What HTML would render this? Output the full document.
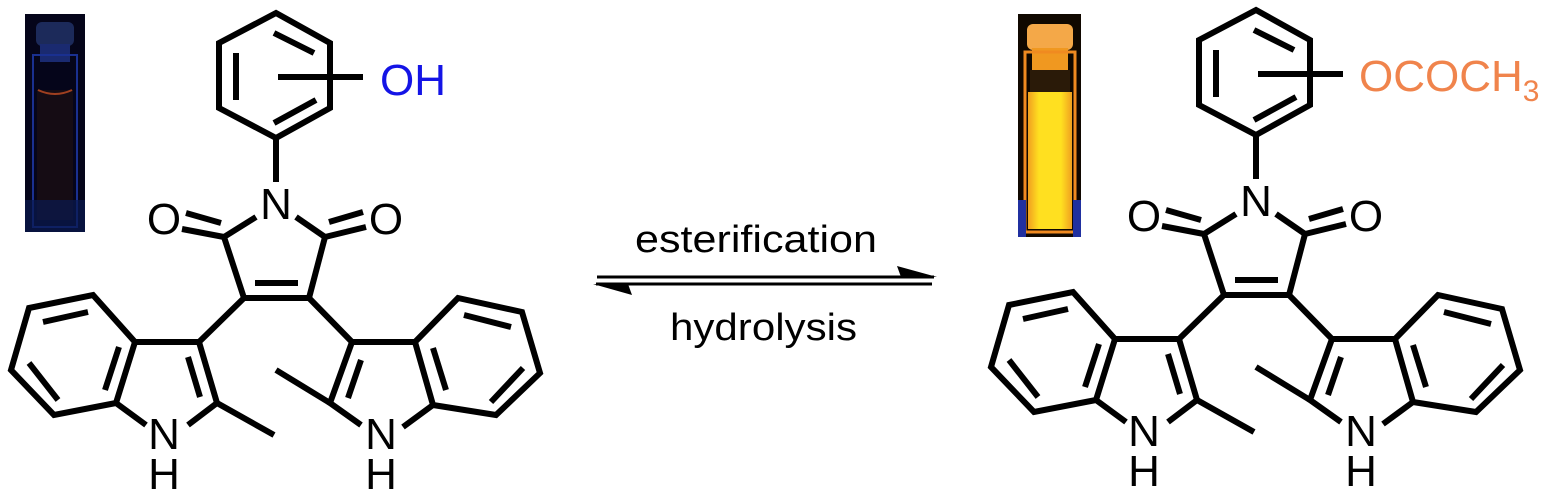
<!DOCTYPE html>
<html><head><meta charset="utf-8"><style>
html,body{margin:0;padding:0;background:#fff;}
svg{display:block;}
text{font-family:"Liberation Sans",Arial,sans-serif;}
</style></head><body>
<svg width="1550" height="501" viewBox="0 0 1550 501" xmlns="http://www.w3.org/2000/svg">
<defs>
<linearGradient id="yel" x1="0" y1="0" x2="1" y2="0">
<stop offset="0" stop-color="#f0a020"/><stop offset="0.25" stop-color="#ffe020"/><stop offset="0.75" stop-color="#ffe020"/><stop offset="1" stop-color="#f0a020"/>
</linearGradient>
<g id="mol" fill="none" stroke="#000" stroke-width="6" stroke-linecap="butt" stroke-linejoin="miter">
<polygon points="276,13 330,43 330,108 276,138 219,108 219,43"/>
<line x1="274" y1="33" x2="314" y2="53"/>
<line x1="236" y1="53" x2="236" y2="100"/>
<line x1="274" y1="123" x2="316" y2="100"/>
<line x1="276" y1="138" x2="276" y2="182"/>
<line x1="256" y1="217" x2="224" y2="237"/>
<line x1="296" y1="217" x2="325" y2="237"/>
<line x1="224" y1="237" x2="182" y2="229"/>
<line x1="186" y1="213" x2="221" y2="223"/>
<line x1="325" y1="237" x2="366" y2="227"/>
<line x1="329" y1="222" x2="363" y2="212"/>
<line x1="224" y1="237" x2="244" y2="298"/>
<line x1="325" y1="237" x2="309" y2="298"/>
<line x1="241" y1="298" x2="312" y2="298"/>
<line x1="255" y1="283" x2="298" y2="283"/>
<line x1="244" y1="298" x2="199" y2="342"/>
<polyline points="135,342 199,342 217,403 188,425"/>
<line x1="188" y1="357" x2="200" y2="397"/>
<line x1="217" y1="403" x2="274" y2="435"/>
<polyline points="146,425 116,403 135,342 93,295 29,308 11,370 54,415 116,403"/>
<line x1="43" y1="322" x2="88" y2="312"/>
<line x1="29" y1="363" x2="58" y2="400"/>
<line x1="119" y1="347" x2="105" y2="390"/>
<line x1="309" y1="298" x2="352" y2="342"/>
<polyline points="415,342 352,342 330,403 361,425"/>
<line x1="361" y1="360" x2="348" y2="398"/>
<line x1="330" y1="403" x2="276" y2="370"/>
<polyline points="403,427 433,405 415,342 458,298 522,312 540,373 496,415 433,405"/>
<line x1="433" y1="348" x2="446" y2="390"/>
<line x1="464" y1="315" x2="511" y2="327"/>
<line x1="491" y1="402" x2="523" y2="368"/>
<line x1="278" y1="77" x2="363" y2="77"/>
</g>
<g id="lab" font-size="44" fill="#000" text-anchor="middle">
<text x="276" y="219">N</text>
<text x="164" y="234">O</text>
<text x="386" y="234">O</text>
<text x="164" y="449">N</text>
<text x="164" y="489">H</text>
<text x="381" y="449">N</text>
<text x="381" y="489">H</text>
</g>
</defs>

<rect x="25" y="14" width="60" height="218" fill="#05051a"/>
<rect x="36" y="22" width="38" height="24" rx="6" fill="#1c2a5a"/>
<rect x="40" y="44" width="30" height="18" fill="#1a2a70"/>
<rect x="33" y="55" width="44" height="172" fill="none" stroke="#1a3090" stroke-width="2"/>
<rect x="37" y="90" width="36" height="130" fill="#150c14"/>
<path d="M38 90 Q55 98 72 90" stroke="#a04020" stroke-width="2" fill="none"/>
<rect x="25" y="200" width="60" height="32" fill="#0a1a50" opacity="0.7"/>

<rect x="1018" y="14" width="63" height="223" fill="#100800"/>
<rect x="1027" y="24" width="46" height="26" rx="6" fill="#f4a848"/>
<rect x="1032" y="48" width="36" height="22" fill="#f09820"/>
<rect x="1025" y="52" width="50" height="180" fill="none" stroke="#f08a20" stroke-width="3"/>
<rect x="1030" y="70" width="40" height="22" fill="#2a1a08"/>
<rect x="1028" y="92" width="44" height="137" fill="url(#yel)"/>
<rect x="1018" y="200" width="8" height="37" fill="#2030a0"/>
<rect x="1073" y="200" width="8" height="37" fill="#2030a0"/>

<use href="#mol"/>
<use href="#lab"/>
<text x="380" y="95" font-size="44" fill="#1414e6">OH</text>

<g transform="translate(980,-3)">
<use href="#mol"/>
<use href="#lab"/>
</g>
<text x="1359" y="91" font-size="44" fill="#f0844c">OCOCH<tspan font-size="30" dy="10">3</tspan></text>

<line x1="597" y1="277" x2="934" y2="277" stroke="#000" stroke-width="3"/>
<polygon points="937,277 897,266 901,277" fill="#000"/>
<line x1="596" y1="284" x2="932" y2="284" stroke="#000" stroke-width="3"/>
<polygon points="593,284 632,295 628,284" fill="#000"/>
<text x="635" y="252" font-size="38" textLength="242" lengthAdjust="spacingAndGlyphs">esterification</text>
<text x="670" y="340" font-size="38" textLength="187" lengthAdjust="spacingAndGlyphs">hydrolysis</text>
</svg>
</body></html>
